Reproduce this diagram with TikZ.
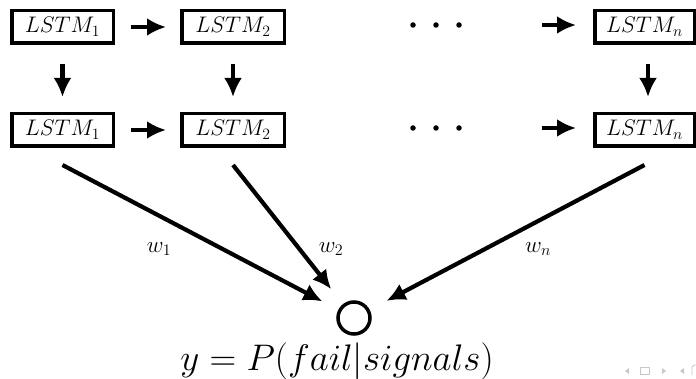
\documentclass[tikz,border=0pt]{standalone}
\usepackage{fix-cm}
\usetikzlibrary{arrows.meta}
\tikzset{
  lstm/.style={draw, line width=3.5pt, inner sep=0pt, minimum height=32.5pt, font=\fontsize{22.5}{24}\selectfont},
  arr/.style={line width=4.2pt, -{Latex[length=19pt,width=18pt]}},
  dotnode/.style={circle, fill, inner sep=0pt, minimum size=5.5pt},
  wlab/.style={font=\fontsize{23}{25}\selectfont},
  nav/.style={fill=black!22, draw=none},
}
\begin{document}
\begin{tikzpicture}[x=1pt,y=-1pt]
\useasboundingbox (0,0) rectangle (696,379);
% row 1
\node[lstm, minimum width=101.5pt] (a1) at (62.5,27) {$LSTM_1$};
\node[lstm, minimum width=102.5pt] (a2) at (233,27) {$LSTM_2$};
\node[lstm, minimum width=99.5pt] (an) at (644.5,27) {$LSTM_n$};
% row 2
\node[lstm, minimum width=101.5pt] (b1) at (62.5,130) {$LSTM_1$};
\node[lstm, minimum width=102.5pt] (b2) at (233,130) {$LSTM_2$};
\node[lstm, minimum width=99.5pt] (bn) at (644.5,130) {$LSTM_n$};
% dots
\node[dotnode] (d11) at (413,25) {};
\node[dotnode] (d12) at (436,25) {};
\node[dotnode] (d13) at (459,25) {};
\node[dotnode] (d21) at (413,128) {};
\node[dotnode] (d22) at (436,128) {};
\node[dotnode] (d23) at (459,128) {};
% horizontal arrows
\draw[arr, shorten <=16pt, shorten >=14pt] (a1.east) -- (a2.west);
\draw[arr, shorten <=16pt, shorten >=14pt] (b1.east) -- (b2.west);
\draw[arr, shorten <=83pt, shorten >=17pt] (d13.center) -- (an.west |- d13.center);
\draw[arr, shorten <=83pt, shorten >=17pt] (d23.center) -- (bn.west |- d23.center);
% vertical arrows
\draw[arr, shorten <=19pt, shorten >=15pt] (a1.south) -- (b1.north);
\draw[arr, shorten <=19pt, shorten >=15pt] (a2.south) -- (b2.north);
\draw[arr, shorten <=19pt, shorten >=15pt] ([xshift=3.5pt]an.south) -- ([xshift=3.5pt]bn.north);
% output
\node[draw, circle, line width=3.5pt, minimum size=32pt, inner sep=0pt] (out) at (354,318) {};
\node[anchor=base, font=\fontsize{37}{40}\selectfont] (eq) at (337,370) {$y = P(fail|signals)$};
% diagonal arrows
\draw[arr, shorten >=18pt] (b1.south) ++(0,17) -- (out);
\draw[arr, shorten >=19pt] (b2.south) ++(0,17) -- (out);
\draw[arr, shorten >=19pt] (bn.south) ++(0,17) -- (out);
% weights
\node[wlab] (w1) at (159,249) {$w_1$};
\node[wlab] (w2) at (331,249) {$w_2$};
\node[wlab] (wn) at (538,249) {$w_n$};
% navigation symbols
\fill[nav] (625,371) -- (629,368) -- (629,374) -- cycle;
\draw[black!22, line width=0.9pt] (640.5,367.5) rectangle (649.5,374);
\fill[nav] (666,371) -- (662,368) -- (662,374) -- cycle;
\fill[nav] (680,371) -- (684,368) -- (684,374) -- cycle;
\draw[black!22, line width=0.9pt] (692,375) -- (692,367) -- (694,365) -- (697,365);
\end{tikzpicture}
\end{document}
